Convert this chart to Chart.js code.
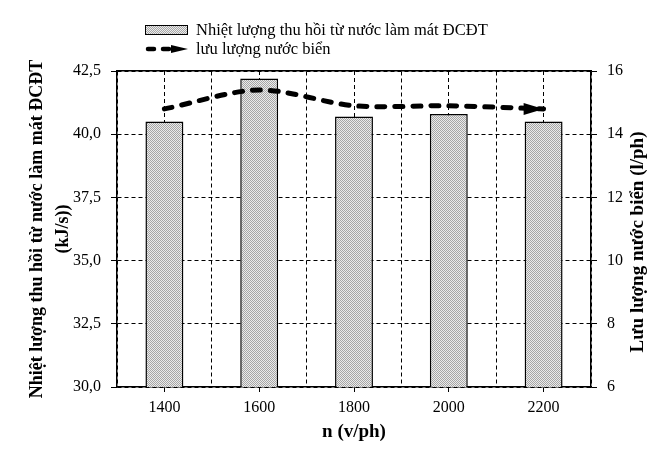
<!DOCTYPE html>
<html>
<head>
<meta charset="utf-8">
<script src="https://cdn.jsdelivr.net/npm/chart.js@4"></script>
<style>
  body { margin: 0; background: #fff; }
  #wrap { position: relative; width: 650px; height: 459px; }
  #legend { position: absolute; left: 145px; top: 20px; font: 16.5px "Liberation Serif", serif; color: #000; }
  .row { display: flex; align-items: center; height: 19px; }
  .box { width: 41px; height: 8px; border: 1px solid #000; margin-right: 8px;
         background-image: repeating-conic-gradient(#a6a6a6 0 25%, #ebebeb 0 50%); background-size: 2px 2px; }
  .sym { margin-right: 8px; }
</style>
</head>
<body>
<div id="wrap">
  <canvas id="chart" width="650" height="459"></canvas>
  <div id="legend">
    <div class="row"><span class="box"></span><span>Nhiệt lượng thu hồi từ nước làm mát ĐCĐT</span></div>
    <div class="row">
      <svg class="sym" width="43" height="12">
        <line x1="3" y1="6" x2="30" y2="6" stroke="#000" stroke-width="4.5" stroke-dasharray="6,9" stroke-linecap="round"/>
        <polygon points="26,2 43,6 26,10" fill="#000"/>
      </svg>
      <span>lưu lượng nước biển</span>
    </div>
  </div>
</div>
<script>
// DATA
const speeds = ["1400", "1600", "1800", "2000", "2200"];
const heatRecovered = [40.5, 42.2, 40.7, 40.8, 40.5];   // kJ/s
const seaWaterFlow = [14.8, 15.4, 14.9, 14.9, 14.8];    // l/ph
const leftTicks = [30, 32.5, 35, 37.5, 40, 42.5];
const rightTicks = [6, 8, 10, 12, 14, 16];

const serif = "'Liberation Serif', 'Times New Roman', serif";
const rightTitle = "Lưu lượng nước biển (l/ph)";

// checker pattern for bars
function makePattern() {
    const c = document.createElement("canvas");
    c.width = 2; c.height = 2;
    const g = c.getContext("2d");
    g.fillStyle = "#ebebeb"; g.fillRect(0, 0, 2, 2);
    g.fillStyle = "#a6a6a6"; g.fillRect(0, 0, 1, 1); g.fillRect(1, 1, 1, 1);
    return g.createPattern(c, "repeat");
}

// arrow head at the end of the flow line
const arrowPlugin = {
    id: "arrowHead",
    afterDatasetsDraw(chart) {
        const pts = chart.getDatasetMeta(1).data;
        const p = pts[pts.length - 1];
        const ctx = chart.ctx;
        ctx.save();
        ctx.fillStyle = "#000";
        ctx.beginPath();
        ctx.moveTo(p.x, p.y);
        ctx.lineTo(p.x - 20, p.y - 6);
        ctx.lineTo(p.x - 20, p.y + 6);
        ctx.closePath();
        ctx.fill();
        ctx.restore();
    }
};

// right axis title, reading bottom to top like the left one
const rightTitlePlugin = {
    id: "rightTitle",
    afterDraw(chart) {
        const s = chart.scales.y1;
        const ctx = chart.ctx;
        ctx.save();
        ctx.translate(s.right - 12, (s.top + s.bottom) / 2 + 13);
        ctx.rotate(-Math.PI / 2);
        ctx.font = "bold 19px " + serif;
        ctx.fillStyle = "#000";
        ctx.textAlign = "center";
        ctx.textBaseline = "middle";
        ctx.fillText(rightTitle, 0, 0);
        ctx.restore();
    }
};

const fmt = v => Number(v).toFixed(1).replace(".", ",");

new Chart(document.getElementById("chart"), {
    type: "bar",
    data: {
        labels: speeds,
        datasets: [
            {
                label: "Nhiệt lượng thu hồi từ nước làm mát ĐCĐT",
                data: heatRecovered,
                backgroundColor: makePattern(),
                borderColor: "#000",
                borderWidth: 1.5,
                borderSkipped: false,
                barPercentage: 0.4,
                categoryPercentage: 1,
                yAxisID: "y",
                order: 1
            },
            {
                type: "line",
                label: "lưu lượng nước biển",
                data: seaWaterFlow,
                borderColor: "#000",
                borderWidth: 5,
                borderDash: [8, 10],
                borderCapStyle: "round",
                tension: 0.3,
                pointRadius: 0,
                fill: false,
                yAxisID: "y1",
                order: 0
            }
        ]
    },
    options: {
        responsive: false,
        animation: false,
        layout: { padding: { left: 0, top: 71, right: 0, bottom: 0 } },
        plugins: { legend: { display: false }, tooltip: { enabled: false } },
        scales: {
            x: {
                type: "category",
                position: "bottom",
                offset: true,
                grid: { offset: false, color: "#000", lineWidth: 1, drawTicks: true, tickLength: 5, tickBorderDash: [] },
                border: { display: true, color: "#000", width: 1.5, dash: [4, 3] },
                ticks: { color: "#000", font: { family: serif, size: 16 }, padding: 6 },
                title: { display: true, text: "n (v/ph)", color: "#000",
                         font: { family: serif, size: 19, weight: "bold" }, padding: { top: 0, bottom: 16 } },
                afterFit: s => { s.height = 72; }
            },
            x2: {
                type: "category",
                position: "top",
                offset: true,
                grid: { offset: true, color: "#000", lineWidth: 1, drawTicks: false },
                border: { display: true, color: "#000", width: 1.5, dash: [4, 3] },
                ticks: { display: false },
                afterFit: s => { s.height = 0; }
            },
            y: {
                position: "left",
                min: 30,
                max: 42.5,
                afterBuildTicks: s => { s.ticks = leftTicks.map(v => ({ value: v })); },
                ticks: { color: "#000", font: { family: serif, size: 16 }, padding: 10, callback: v => fmt(v) },
                grid: { color: "#000", lineWidth: 1, tickLength: 6, tickBorderDash: [] },
                border: { display: true, color: "#000", width: 1.5, dash: [4, 3] },
                title: { display: true, text: ["Nhiệt lượng thu hồi từ nước làm mát ĐCĐT", "(kJ/s))"], color: "#000",
                         font: { family: serif, size: 18, weight: "bold", lineHeight: 1.45 }, padding: { top: 24, bottom: 0 } },
                afterFit: s => { s.width = 117; }
            },
            y1: {
                position: "right",
                min: 6,
                max: 16,
                afterBuildTicks: s => { s.ticks = rightTicks.map(v => ({ value: v })); },
                ticks: { color: "#000", font: { family: serif, size: 16 }, padding: 10 },
                grid: { drawOnChartArea: false, color: "#000", tickLength: 6, tickBorderDash: [] },
                border: { display: true, color: "#000", width: 1.5 },
                title: { display: false },
                afterFit: s => { s.width = 59; }
            }
        }
    },
    plugins: [arrowPlugin, rightTitlePlugin]
});
</script>
</body>
</html>
